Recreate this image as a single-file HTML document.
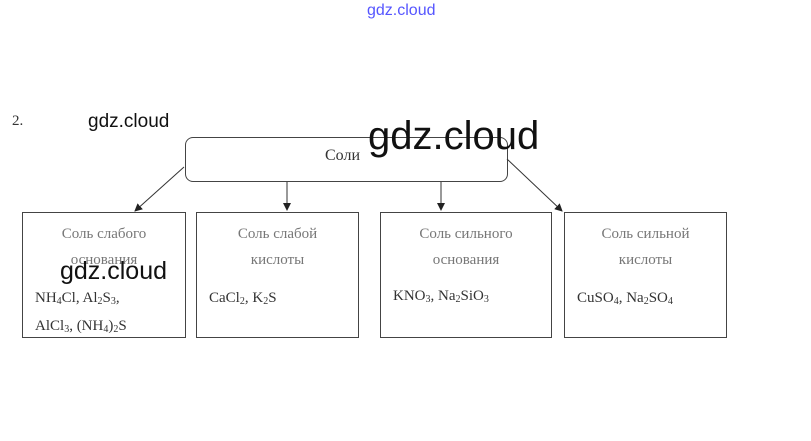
<!DOCTYPE html>
<html><head><meta charset="utf-8"><style>
body{margin:0;width:811px;height:441px;background:#fff;position:relative;overflow:hidden;font-family:"Liberation Serif",serif;}
.a{position:absolute;}
.box{position:absolute;border:1px solid #444;box-sizing:border-box;}
.t{position:absolute;color:#777;font-size:15px;text-align:center;width:100%;}
.f{position:absolute;color:#333;font-size:15px;left:12px;line-height:26px;}
.w{font-family:"Liberation Sans",sans-serif;color:#111;position:absolute;}
sub{font-size:10px;vertical-align:-2px;}
</style></head><body>
<div class="w" style="left:367px;top:2px;font-size:16px;color:#55f;">gdz.cloud</div>
<div class="a" style="left:12px;top:113px;font-size:15px;color:#333;">2.</div>
<div class="w" style="left:88px;top:111px;font-size:19px;">gdz.cloud</div>
<div class="box" style="left:185px;top:137px;width:323px;height:45px;border-radius:8px;"></div>
<div class="a" style="left:325px;top:147px;font-size:16px;color:#333;">Соли</div>
<div class="w" style="left:368px;top:114px;font-size:40px;">gdz.cloud</div>
<svg class="a" style="left:0;top:0" width="811" height="441">
<defs><marker id="m" markerWidth="8" markerHeight="8" refX="7" refY="4" orient="auto"><path d="M0,0L8,4L0,8z" fill="#222"/></marker></defs>
<g stroke="#333" stroke-width="1" marker-end="url(#m)">
<line x1="184" y1="167" x2="135" y2="211"/>
<line x1="287" y1="182" x2="287" y2="210"/>
<line x1="441" y1="182" x2="441" y2="210"/>
<line x1="507" y1="159" x2="562" y2="211"/>
</g></svg>
<div class="box" style="left:22px;top:212px;width:164px;height:126px;">
<div class="t" style="top:8px;line-height:26px;">Соль слабого<br>основания</div>
<div class="f" style="top:73px;line-height:25px;">NH<sub>4</sub>Cl, Al<sub>2</sub>S<sub>3</sub>,<br>AlCl<sub>3</sub>, (NH<sub>4</sub>)<sub>2</sub>S</div></div>
<div class="w" style="left:60px;top:257px;font-size:25px;">gdz.cloud</div>
<div class="box" style="left:196px;top:212px;width:163px;height:126px;">
<div class="t" style="top:8px;line-height:26px;">Соль слабой<br>кислоты</div>
<div class="f" style="top:72px;">CaCl<sub>2</sub>, K<sub>2</sub>S</div></div>
<div class="box" style="left:380px;top:212px;width:172px;height:126px;">
<div class="t" style="top:8px;line-height:26px;">Соль сильного<br>основания</div>
<div class="f" style="top:70px;">KNO<sub>3</sub>, Na<sub>2</sub>SiO<sub>3</sub></div></div>
<div class="box" style="left:564px;top:212px;width:163px;height:126px;">
<div class="t" style="top:8px;line-height:26px;">Соль сильной<br>кислоты</div>
<div class="f" style="top:72px;">CuSO<sub>4</sub>, Na<sub>2</sub>SO<sub>4</sub></div></div>
</body></html>
